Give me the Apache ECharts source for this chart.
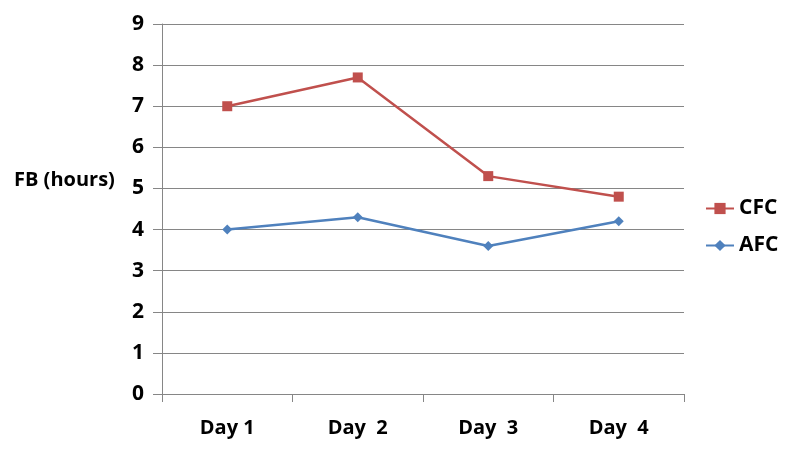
<!DOCTYPE html>
<html>
<head>
<meta charset="utf-8">
<script src="https://cdn.jsdelivr.net/npm/echarts@6/dist/echarts.min.js"></script>
<style>
  html, body { margin: 0; padding: 0; background: #fff; }
  #chart { width: 800px; height: 461px; }
</style>
</head>
<body>
<div id="chart"></div>
<script>
  var days = ['Day 1', 'Day  2', 'Day  3', 'Day  4'];
  var cfc = [7.0, 7.7, 5.3, 4.8];
  var afc = [4.0, 4.3, 3.6, 4.2];
  var yTicks = [0, 1, 2, 3, 4, 5, 6, 7, 8, 9];

  var font = 'Open Sans';
  var option = {
    animation: false,
    backgroundColor: '#fff',
    grid: { left: 162, right: 116, top: 24, bottom: 67 },
    legend: {
      orient: 'vertical',
      left: 700,
      top: 193,
      itemGap: 16,
      itemWidth: 28,
      itemHeight: 14,
      data: ['CFC', 'AFC'],
      textStyle: { fontFamily: font, fontWeight: 'bold', fontSize: 21, color: '#000' }
    },
    graphic: [{
      type: 'text',
      left: 14,
      top: 170,
      style: { text: 'FB (hours)', fontFamily: font, fontWeight: 'bold', fontSize: 20, fill: '#000' }
    }],
    xAxis: {
      type: 'category',
      data: days,
      boundaryGap: true,
      axisLine: { lineStyle: { color: '#868686', width: 1 } },
      axisTick: { show: true, length: 8, lineStyle: { color: '#868686' } },
      axisLabel: { margin: 24, fontFamily: font, fontWeight: 'bold', fontSize: 20, color: '#000' }
    },
    yAxis: {
      type: 'value',
      min: yTicks[0],
      max: yTicks[yTicks.length - 1],
      interval: 1,
      axisLine: { show: true, lineStyle: { color: '#868686', width: 1 } },
      axisTick: { show: true, length: 9, lineStyle: { color: '#868686' } },
      axisLabel: { margin: 18, fontFamily: font, fontWeight: 'bold', fontSize: 21, color: '#000' },
      splitLine: { show: true, lineStyle: { color: '#868686', width: 1 } }
    },
    series: [
      {
        name: 'CFC',
        type: 'line',
        data: cfc,
        symbol: 'rect',
        symbolSize: 10,
        lineStyle: { color: '#C0504D', width: 2.5 },
        itemStyle: { color: '#C0504D' }
      },
      {
        name: 'AFC',
        type: 'line',
        data: afc,
        symbol: 'diamond',
        symbolSize: 10,
        lineStyle: { color: '#4F81BD', width: 2.5 },
        itemStyle: { color: '#4F81BD' }
      }
    ]
  };

  var myChart = echarts.init(document.getElementById('chart'));
  myChart.setOption(option);
</script>
</body>
</html>
